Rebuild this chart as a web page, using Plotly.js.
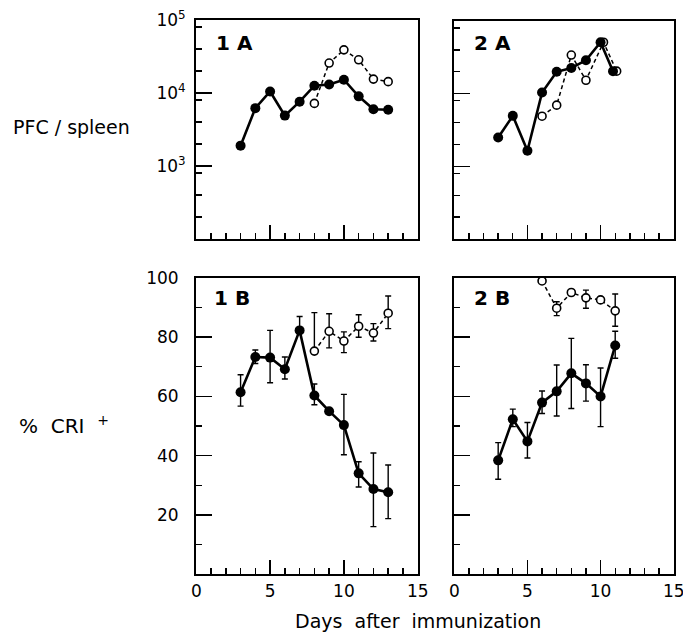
<!DOCTYPE html>
<html><head><meta charset="utf-8">
<script src="https://cdn.plot.ly/plotly-3.0.1.min.js"></script>
<style>html,body{margin:0;padding:0;background:#fff;}</style>
</head><body>
<div id="chart" style="width:683px;height:635px;"></div>
<script>
// ---- Data ----
// Panel 1A: PFC / spleen
const days1A_filled = [3,4,5,6,7,8,9,10,11,12,13];
const pfc1A_filled = [1900,6200,10500,4900,7600,12600,13100,15200,9000,6000,5900];
const days1A_open = [8,9,10,11,12,13];
const pfc1A_open = [7200,25700,39000,28500,15500,14300];
// Panel 2A
const days2A_filled = [3,4,5,6,7,8,9,10,10.85];
const pfc2A_filled = [2500,4950,1640,10400,20000,22600,28800,51000,20400];
const days2A_open = [6,7,8,9,10.2,11.1];
const pfc2A_open = [4900,6950,34000,15300,51000,20400];
// Panel 1B: % CRI+
const days1B_filled = [3,4,5,6,7,8,9,10,11,12,13];
const cri1B_filled = [61.4,73.3,73.1,69.2,82.3,60.3,55.0,50.3,34.0,28.7,27.6];
const err1B_filled_plus = [5.9,2.4,9.2,4.1,4.7,3.9,0,10.4,3.9,12.2,9.2];
const err1B_filled_minus = [4.7,2.2,8.5,3.3,0,3.1,0,10.0,4.6,12.7,8.9];
const days1B_open = [8,9,10,11,12,13];
const cri1B_open = [75.3,82.0,78.7,83.7,81.4,88.1];
const err1B_open_plus = [13.0,5.9,3.1,3.9,3.2,5.8];
const err1B_open_minus = [0,5.6,3.9,3.7,2.7,5.2];
// Panel 2B
const days2B_filled = [3,4,5,6,7,8,9,10,11];
const cri2B_filled = [38.4,52.3,44.8,57.9,61.7,67.8,64.4,60.0,77.2];
const err2B_filled_plus = [6.0,3.4,6.4,3.9,8.9,11.8,6.3,9.6,4.8];
const err2B_filled_minus = [6.4,2.5,5.6,3.7,8.3,11.9,6.0,10.2,4.3];
const days2B_open = [6,7,8,9,10,11];
const cri2B_open = [99.0,89.8,95.1,93.3,92.6,88.9];
const err2B_open_plus = [0,2.2,0,2.6,0,5.7];
const err2B_open_minus = [0,2.5,0,3.5,0,5.2];

const majorX = [0,5,10,15];
const minorX = [1,2,3,4,6,7,8,9,11,12,13,14];
const logTickVals = [1000,10000,100000];
const logTickText = ['10<sup>3</sup>','10<sup>4</sup>','10<sup>5</sup>'];
const logMinor = [200,400,800,2000,4000,8000,20000,40000,80000];
const linTickVals = [20,40,60,80,100];
const linMinor = [10,30,50,70,90];

// ---- styles ----
const FONT = 'DejaVu Sans, Arial, sans-serif';
const W = 683, H = 635;
const px = v => v / W;
const py = v => 1 - v / H;

function filledTrace(x, y, xa, ya, ep, em) {
  const t = {x, y, xaxis: xa, yaxis: ya, mode: 'lines+markers', type: 'scatter',
    line: {color: '#000', width: 2.6},
    marker: {color: '#000', size: 10, line: {width: 0}}, hoverinfo: 'skip'};
  if (ep) t.error_y = {type: 'data', symmetric: false, array: ep, arrayminus: em,
    color: '#000', thickness: 1.4, width: 3};
  return t;
}
function openTrace(x, y, xa, ya, ep, em) {
  const t = {x, y, xaxis: xa, yaxis: ya, mode: 'lines+markers', type: 'scatter',
    line: {color: '#000', width: 1.5, dash: '4px,3px'},
    marker: {color: '#fff', size: 8, line: {color: '#000', width: 1.6}}, hoverinfo: 'skip'};
  if (ep) t.error_y = {type: 'data', symmetric: false, array: ep, arrayminus: em,
    color: '#000', thickness: 1.4, width: 3};
  return t;
}

const data = [
  openTrace(days1A_open, pfc1A_open, 'x', 'y'),
  filledTrace(days1A_filled, pfc1A_filled, 'x', 'y'),
  openTrace(days2A_open, pfc2A_open, 'x2', 'y2'),
  filledTrace(days2A_filled, pfc2A_filled, 'x2', 'y2'),
  openTrace(days1B_open, cri1B_open, 'x3', 'y3', err1B_open_plus, err1B_open_minus),
  filledTrace(days1B_filled, cri1B_filled, 'x3', 'y3', err1B_filled_plus, err1B_filled_minus),
  openTrace(days2B_open, cri2B_open, 'x4', 'y4', err2B_open_plus, err2B_open_minus),
  filledTrace(days2B_filled, cri2B_filled, 'x4', 'y4', err2B_filled_plus, err2B_filled_minus)
];

function xAxis(d, anchor, labels) {
  return {domain: d, anchor, range: [-0.02, 15.02], showgrid: false, zeroline: false,
    showline: true, linecolor: '#000', linewidth: 2, mirror: true,
    ticks: 'inside', tickmode: 'array', tickvals: majorX, ticklen: 14, tickwidth: 1.6, tickcolor: '#000',
    minor: {tickmode: 'array', tickvals: minorX, ticks: 'inside', ticklen: 6, tickwidth: 1.4, tickcolor: '#000', showgrid: false},
    showticklabels: labels, ticklabelstandoff: 1, ticklabeloverflow: 'allow',
    tickfont: {family: FONT, size: 17, color: '#000'}, fixedrange: true};
}
function yLog(d, anchor, labels) {
  return {domain: d, anchor, type: 'log', range: [2, 5], showgrid: false, zeroline: false,
    showline: true, linecolor: '#000', linewidth: 2, mirror: true,
    ticks: 'inside', tickmode: 'array', tickvals: logTickVals, ticktext: logTickText,
    ticklen: 16, tickwidth: 1.6, tickcolor: '#000',
    minor: {tickmode: 'array', tickvals: logMinor, ticks: 'inside', ticklen: 6, tickwidth: 1.4, tickcolor: '#000', showgrid: false},
    showticklabels: labels, ticklabelstandoff: 5, ticklabeloverflow: 'allow',
    tickfont: {family: FONT, size: 17, color: '#000'}, fixedrange: true};
}
function yLin(d, anchor, labels) {
  return {domain: d, anchor, range: [0, 100], showgrid: false, zeroline: false,
    showline: true, linecolor: '#000', linewidth: 2, mirror: true,
    ticks: 'inside', tickmode: 'array', tickvals: linTickVals,
    ticklen: 16, tickwidth: 1.6, tickcolor: '#000',
    minor: {tickmode: 'array', tickvals: linMinor, ticks: 'inside', ticklen: 6, tickwidth: 1.4, tickcolor: '#000', showgrid: false},
    showticklabels: labels, ticklabelstandoff: 12, ticklabeloverflow: 'allow',
    tickfont: {family: FONT, size: 17, color: '#000'}, fixedrange: true};
}

const layout = {
  width: W, height: H, margin: {l: 0, r: 0, t: 0, b: 0},
  paper_bgcolor: '#fff', plot_bgcolor: '#fff', showlegend: false,
  font: {family: FONT, color: '#000'},
  xaxis: xAxis([px(196), px(418)], 'y', false),
  yaxis: yLog([py(239), py(20)], 'x', true),
  xaxis2: xAxis([px(454), px(674)], 'y2', false),
  yaxis2: yLog([py(239), py(21)], 'x2', false),
  xaxis3: xAxis([px(196), px(418)], 'y3', true),
  yaxis3: yLin([py(574), py(278)], 'x3', true),
  xaxis4: xAxis([px(454), px(674)], 'y4', true),
  yaxis4: yLin([py(574), py(278)], 'x4', false),
  annotations: [
    {text: '<b>1 A</b>', x: px(214), y: py(43), xref: 'paper', yref: 'paper', xanchor: 'left', yanchor: 'middle', showarrow: false, font: {family: FONT, size: 20}},
    {text: '<b>2 A</b>', x: px(472), y: py(43), xref: 'paper', yref: 'paper', xanchor: 'left', yanchor: 'middle', showarrow: false, font: {family: FONT, size: 20}},
    {text: '<b>1 B</b>', x: px(212), y: py(298), xref: 'paper', yref: 'paper', xanchor: 'left', yanchor: 'middle', showarrow: false, font: {family: FONT, size: 20}},
    {text: '<b>2 B</b>', x: px(472), y: py(298), xref: 'paper', yref: 'paper', xanchor: 'left', yanchor: 'middle', showarrow: false, font: {family: FONT, size: 20}},
    {text: 'PFC / spleen', x: px(11), y: py(127), xref: 'paper', yref: 'paper', xanchor: 'left', yanchor: 'middle', showarrow: false, font: {family: FONT, size: 19}},
    {text: '% &nbsp;CRI &nbsp;<sup>+</sup>', x: px(17), y: py(425), xref: 'paper', yref: 'paper', xanchor: 'left', yanchor: 'middle', showarrow: false, font: {family: FONT, size: 20}},
    {text: 'Days &nbsp;after &nbsp;immunization', x: px(418), y: py(621), xref: 'paper', yref: 'paper', xanchor: 'center', yanchor: 'middle', showarrow: false, font: {family: FONT, size: 19}}
  ]
};

Plotly.newPlot('chart', data, layout, {staticPlot: true, displayModeBar: false});
</script>
</body></html>
